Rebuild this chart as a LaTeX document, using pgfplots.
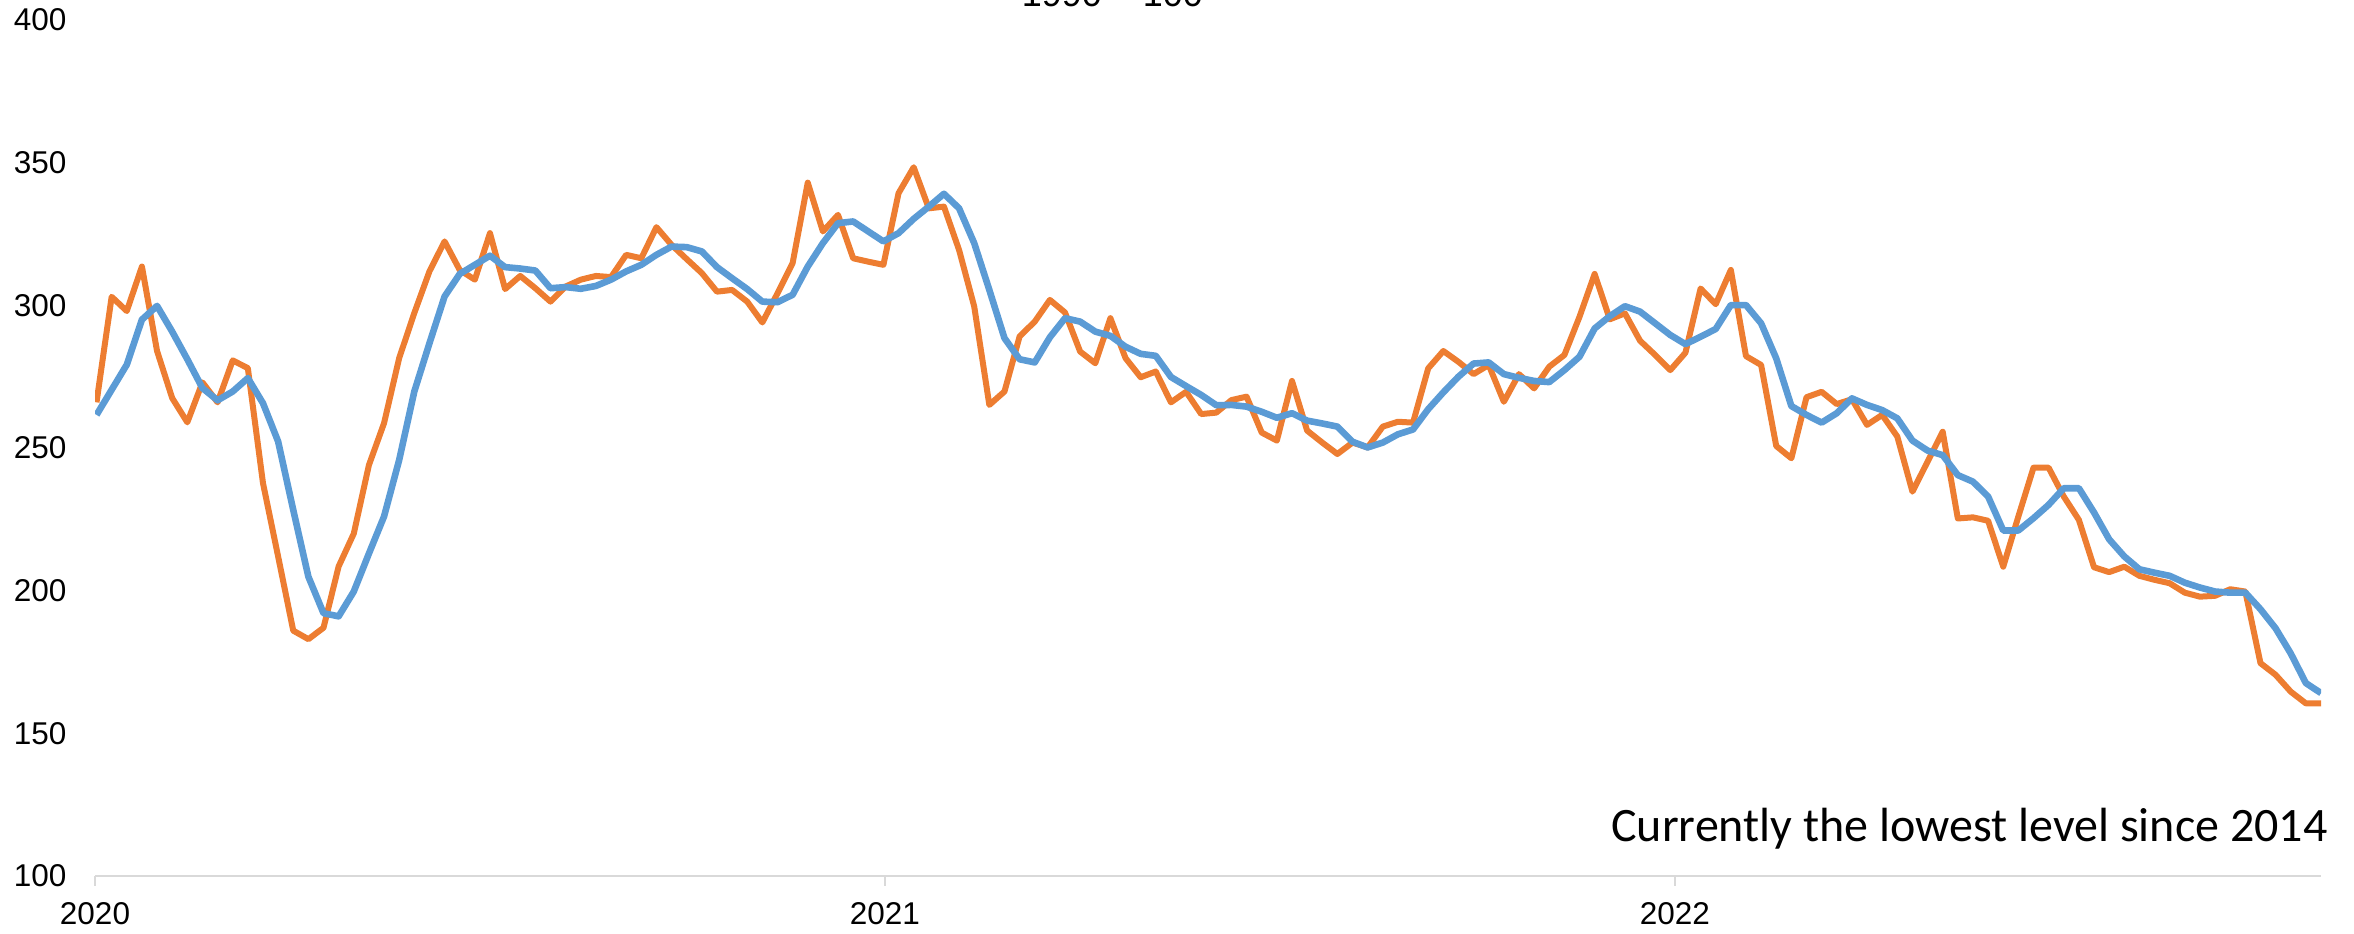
\documentclass[border=0pt]{standalone}
\usepackage{fontspec}
\setmainfont{Liberation Sans}
\newfontfamily\calibri{Carlito}
\usepackage{pgfplots}
\usepackage{pgfplotstable}
\pgfplotsset{compat=1.18}
\definecolor{xlorange}{HTML}{ED7D31}
\definecolor{xlblue}{HTML}{5B9BD5}
\definecolor{axgray}{HTML}{D9D9D9}
\pgfplotstableread{
x o b
0 266 261.6
1 303 270.4
2 298 279.2
3 313.6 295
4 284 299.8
5 267.5 290.8
6 259 281.1
7 273 271
8 266 266.7
9 280.7 269.8
10 278 274.5
11 237.7 265.7
12 212 252.3
13 186 228.3
14 183 204.9
15 187 192.1
16 208.5 191
17 220 199.7
18 244 213
19 258.7 226
20 281.5 245.8
21 297.3 269.8
22 311.9 286.7
23 322.4 303.1
24 312.4 311
25 309 314.2
26 325.3 317.4
27 305.7 313.4
28 310.3 312.9
29 306 312.2
30 301.3 306
31 306.6 306.4
32 309 305.8
33 310.3 306.8
34 309.9 309
35 317.7 311.9
36 316.5 314.2
37 327.4 317.7
38 321.2 320.6
39 316.2 320.4
40 311.3 318.9
41 304.8 313.4
42 305.4 309.5
43 301.3 305.7
44 294 301.3
45 304.2 301.1
46 314.8 303.7
47 343 313.6
48 325.9 321.8
49 331.7 328.8
50 316.5 329.4
51 315.3 325.9
52 314.2 322.4
53 339.3 325.3
54 348.4 330.3
55 334 334.6
56 334.6 339.1
57 319.4 334
58 299.6 321.8
59 265.1 305.4
60 269.8 288.5
61 289.1 281.1
62 294.3 280
63 301.9 288.8
64 297.5 295.5
65 283.8 294.3
66 279.7 290.8
67 295.5 289.3
68 281.5 285.5
69 274.8 283
70 276.8 282.3
71 266 274.9
72 269.7 271.7
73 261.9 268.6
74 262.4 265
75 266.8 265.1
76 268 264.5
77 255.4 262.7
78 252.6 260.6
79 273.5 262.2
80 256.1 259.6
81 251.9 258.6
82 247.9 257.5
83 251.9 252.2
84 250.2 250.2
85 257.5 251.9
86 259.2 254.8
87 258.9 256.5
88 277.9 263.6
89 284 269.5
90 280.2 275
91 275.9 279.6
92 279.1 280
93 266.2 275.9
94 275.9 274.6
95 270.9 273.5
96 278.5 273.1
97 282.6 277.3
98 296 282
99 311 291.9
100 295.1 296.2
101 297.2 299.7
102 287.6 297.8
103 282.6 293.7
104 277.3 289.6
105 283.4 286.4
106 305.9 289
107 300.4 291.7
108 312.4 300.1
109 282.2 300.1
110 279.1 293.7
111 250.7 281.4
112 246.4 264.7
113 267.8 261.6
114 269.7 258.9
115 265.4 262.2
116 267.1 267.4
117 258.1 265.1
118 261.6 263.3
119 254 260.4
120 234.7 252.6
121 245.2 249.1
122 255.7 247.5
123 225.3 240.5
124 225.7 238.2
125 224.5 233
126 208.4 221.1
127 226 221.1
128 243.1 225.4
129 243.1 230.1
130 233 235.9
131 224.8 235.9
132 208.2 227.4
133 206.5 218
134 208.4 212
135 205.2 207.5
136 203.8 206.3
137 202.6 205.2
138 199.3 202.8
139 197.9 201.1
140 198.2 199.7
141 200.5 199.3
142 199.7 199.3
143 174.6 193.5
144 170.5 186.8
145 164.6 178
146 160.5 167.6
147 160.5 164.1
}\data
\begin{document}
\begin{tikzpicture}
\useasboundingbox (0,0) rectangle (784.67pt,311.33pt);
\begin{axis}[
  at={(31.67pt,19.33pt)}, anchor=south west,
  scale only axis, width=742pt, height=285.33pt,
  xmin=-0.1, xmax=147, ymin=100, ymax=400,
  axis x line*=bottom, axis y line*=left,
  x axis line style={axgray, line width=0.7pt, -},
  y axis line style={draw=none},
  xtick={-0.1,52.1,104.3}, xticklabels={2020,2021,2022},
  major tick length=3.33pt,
  x tick style={axgray, line width=0.7pt, yshift=-3.33pt},
  ytick={100,150,...,400},
  y tick style={draw=none},
  /pgf/number format/assume math mode=true,
  tick label style={font=\fontsize{10.5}{12}\selectfont, inner sep=0pt},
  yticklabel style={anchor=east, xshift=-9.33pt},
  xticklabel style={anchor=north, yshift=-8.67pt},
]
\addplot[xlorange, line width=2pt, line join=round, no markers] table[x=x,y=o]{\data};
\addplot[xlblue, line width=2.2pt, line join=round, no markers] table[x=x,y=b]{\data};
\end{axis}
\node[anchor=base, font=\fontsize{12}{14}\selectfont, inner sep=0pt] at (370.8pt,309pt) {1990 = 100};
\node[anchor=base east, font=\calibri\fontsize{16}{19}\selectfont, inner sep=0pt] at (776pt,30.67pt) {Currently the lowest level since 2014};
\end{tikzpicture}
\end{document}
